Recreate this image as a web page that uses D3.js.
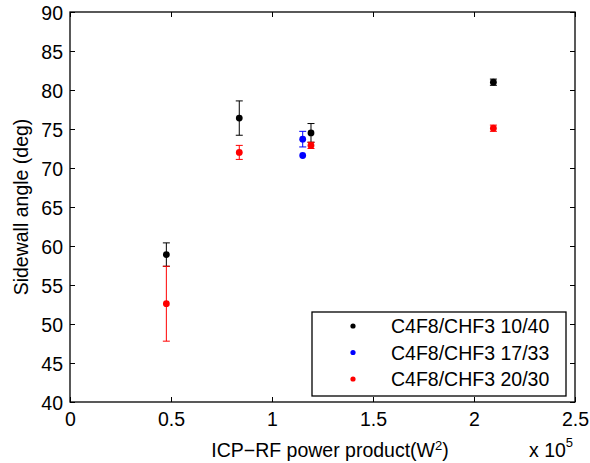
<!DOCTYPE html>
<html>
<head>
<meta charset="utf-8">
<script src="https://cdn.jsdelivr.net/npm/d3@7"></script>
<style>
body { margin: 0; background: #fff; }
text { font-family: "Liberation Sans", Arial, Helvetica, sans-serif; fill: #000; }
</style>
</head>
<body>
<svg id="chart"></svg>
<script>
// power product (W^2) and sidewall angle (deg) with symmetric error
const blackX = [47700, 83800, 119300, 209600];
const blackY = [58.9, 76.4, 74.5, 81.0];
const blackErr = [1.5, 2.2, 1.2, 0.4];

const blueX = [115200, 115200];
const blueY = [73.7, 71.6];
const blueErr = [1.0, 0];

const redX = [47700, 83800, 119300, 209600];
const redY = [52.6, 72.0, 72.9, 75.1];
const redErr = [4.8, 0.9, 0.4, 0.4];

const seriesNames = ['C4F8/CHF3 10/40', 'C4F8/CHF3 17/33', 'C4F8/CHF3 20/30'];
const seriesColors = ['#000000', '#0000ff', '#ff0000'];
const xTicks = [0, 50000, 100000, 150000, 200000, 250000];
const yTicks = [40, 45, 50, 55, 60, 65, 70, 75, 80, 85, 90];

const W = 590, H = 463;
const plotLeft = 70, plotRight = 575, plotTop = 12, plotBottom = 402;
const fontSize = 19.5;

const svg = d3.select('#chart').attr('width', W).attr('height', H);

const x = d3.scaleLinear().domain([0, 250000]).range([plotLeft, plotRight]);
const y = d3.scaleLinear().domain([40, 90]).range([plotBottom, plotTop]);

const fmtX = d => d3.format('~g')(d / 1e5);

// axes, ticks pointing inward on all four sides
const gx = svg.append('g').attr('transform', `translate(0,${plotBottom})`)
	.call(d3.axisBottom(x).tickValues(xTicks).tickFormat(fmtX).tickSizeInner(-5).tickSizeOuter(0).tickPadding(8));
const gy = svg.append('g').attr('transform', `translate(${plotLeft},0)`)
	.call(d3.axisLeft(y).tickValues(yTicks).tickSizeInner(-5).tickSizeOuter(0).tickPadding(7));
const gx2 = svg.append('g').attr('transform', `translate(0,${plotTop})`)
	.call(d3.axisTop(x).tickValues(xTicks).tickFormat('').tickSizeInner(-5).tickSizeOuter(0));
const gy2 = svg.append('g').attr('transform', `translate(${plotRight},0)`)
	.call(d3.axisRight(y).tickValues(yTicks).tickFormat('').tickSizeInner(-5).tickSizeOuter(0));

[gx, gy, gx2, gy2].forEach(g => {
	g.select('.domain').remove();
	g.selectAll('.tick line').attr('stroke', '#000').attr('stroke-width', 1);
	g.selectAll('text').attr('font-size', fontSize).attr('font-family', '"Liberation Sans", Arial, sans-serif').attr('fill', '#000');
});
gx.selectAll('.tick text').attr('dy', '0.82em');
gy.selectAll('.tick text').attr('dy', '0.36em');

svg.append('rect')
	.attr('x', plotLeft).attr('y', plotTop)
	.attr('width', plotRight - plotLeft).attr('height', plotBottom - plotTop)
	.attr('fill', 'none').attr('stroke', '#000').attr('stroke-width', 1.3);

// error bars and points
const series = [
	{ xs: blackX, ys: blackY, err: blackErr, color: seriesColors[0] },
	{ xs: blueX, ys: blueY, err: blueErr, color: seriesColors[1] },
	{ xs: redX, ys: redY, err: redErr, color: seriesColors[2] }
];

const capHalf = 3.5;
series.forEach(s => {
	const pts = s.xs.map((v, i) => ({ x: v, y: s.ys[i], e: s.err[i] }));
	const g = svg.append('g');
	const eb = g.selectAll('g.eb').data(pts.filter(d => d.e > 0)).enter().append('g')
		.attr('stroke', s.color).attr('stroke-width', 1);
	eb.append('line')
		.attr('x1', d => x(d.x)).attr('x2', d => x(d.x))
		.attr('y1', d => y(d.y - d.e)).attr('y2', d => y(d.y + d.e));
	eb.append('line')
		.attr('x1', d => x(d.x) - capHalf).attr('x2', d => x(d.x) + capHalf)
		.attr('y1', d => y(d.y + d.e)).attr('y2', d => y(d.y + d.e));
	eb.append('line')
		.attr('x1', d => x(d.x) - capHalf).attr('x2', d => x(d.x) + capHalf)
		.attr('y1', d => y(d.y - d.e)).attr('y2', d => y(d.y - d.e));
	g.selectAll('circle').data(pts).enter().append('circle')
		.attr('cx', d => x(d.x)).attr('cy', d => y(d.y))
		.attr('r', 3.4).attr('fill', s.color);
});

// legend
const legend = svg.append('g');
legend.append('rect')
	.attr('x', 312).attr('y', 312).attr('width', 254).attr('height', 84)
	.attr('fill', '#fff').attr('stroke', '#000').attr('stroke-width', 1.3);
seriesNames.forEach((name, i) => {
	const ly = 326 + i * 26.5;
	legend.append('circle').attr('cx', 353).attr('cy', ly).attr('r', 2.6).attr('fill', seriesColors[i]);
	legend.append('text').attr('x', 391).attr('y', ly).attr('dy', '0.36em')
		.attr('font-size', fontSize).text(name);
});

// axis labels
svg.append('text')
	.attr('x', 330).attr('y', 457)
	.attr('text-anchor', 'middle').attr('font-size', fontSize)
	.html('ICP\u2212RF power product(W<tspan dy="-7" font-size="13">2</tspan><tspan dy="7">)</tspan>');

svg.append('text')
	.attr('transform', `translate(28,${(plotTop + plotBottom) / 2}) rotate(-90)`)
	.attr('text-anchor', 'middle').attr('font-size', fontSize)
	.text('Sidewall angle (deg)');

svg.append('text')
	.attr('x', 529).attr('y', 457).attr('font-size', fontSize)
	.html('x 10<tspan dy="-10" font-size="13">5</tspan>');
</script>
</body>
</html>
